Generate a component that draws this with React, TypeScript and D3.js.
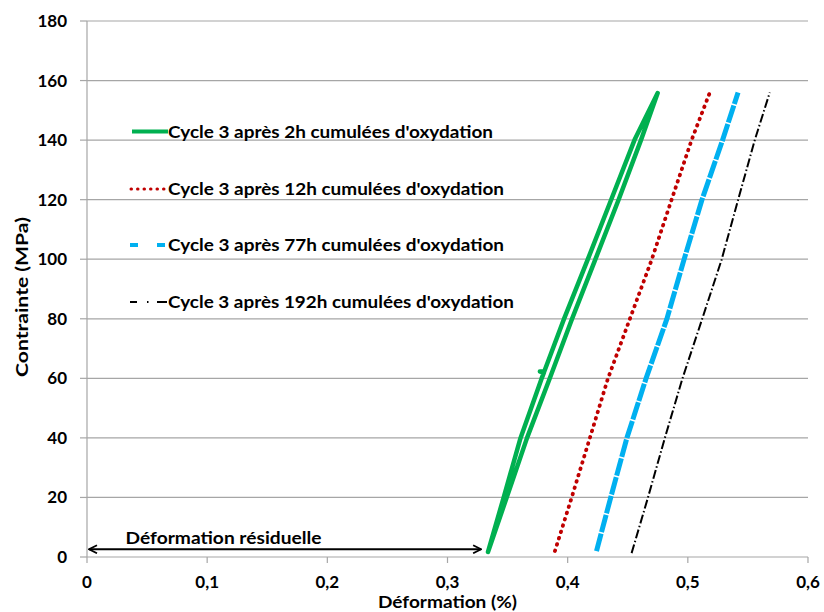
import React from "react";
import * as d3 from "d3";

// ---- Data ----
const xTicks = [0, 0.1, 0.2, 0.3, 0.4, 0.5, 0.6];
const yTicks = [0, 20, 40, 60, 80, 100, 120, 140, 160, 180];

// Cycle 3 après 2h : loading branch (right) then unloading branch (left)
const green2hX = [0.3337, 0.3491, 0.3662, 0.3849, 0.4036, 0.4228, 0.4423, 0.461, 0.4749,
  0.4556, 0.4361, 0.4165, 0.3969, 0.3806, 0.3769, 0.3803, 0.3782, 0.3608, 0.3466, 0.3337];
const green2hY = [1.7, 19.8, 40, 59.8, 79.9, 99.7, 119.9, 140, 155.8,
  140, 119.9, 99.7, 79.9, 62.4, 62.3, 62, 59.8, 40, 19.8, 1.7];

const red12hX = [0.3894, 0.4032, 0.4185, 0.4334, 0.4517, 0.4698, 0.4864, 0.5031, 0.5183];
const red12hY = [2, 19.8, 40, 59.8, 79.9, 99.7, 119.9, 140, 156];

const blue77hX = [0.424, 0.4357, 0.4493, 0.4651, 0.4825, 0.4967, 0.5117, 0.5289, 0.5418];
const blue77hY = [2, 19.8, 40, 59.8, 79.9, 99.7, 119.9, 140, 156];

const black192hX = [0.4532, 0.4667, 0.4809, 0.4954, 0.5119, 0.528, 0.5418, 0.5557, 0.5682];
const black192hY = [1.3, 19.8, 40, 59.8, 79.9, 99.7, 119.9, 140, 156];

const legendLabels = [
  "Cycle 3 après 2h cumulées d'oxydation",
  "Cycle 3 après 12h cumulées d'oxydation",
  "Cycle 3 après 77h cumulées d'oxydation",
  "Cycle 3 après 192h cumulées d'oxydation",
];

const xTitle = "Déformation (%)";
const yTitle = "Contrainte (MPa)";
const annotation = "Déformation résiduelle";
const annotationFrom = 0.0;
const annotationTo = 0.328;
const annotationY = 2.6;

const FONT = "Lato, 'Open Sans', sans-serif";

export default function App() {
  const x = d3.scaleLinear().domain([0, 0.6]).range([87, 808]);
  const y = d3.scaleLinear().domain([0, 180]).range([557, 21]);

  const line = d3
    .line<[number, number]>()
    .x((d) => x(d[0]))
    .y((d) => y(d[1]));

  const zip = (xs: number[], ys: number[]) => xs.map((v, i) => [v, ys[i]] as [number, number]);

  const series = [
    { pts: zip(green2hX, green2hY), stroke: "#00B050", width: 4.5, dash: undefined as string | undefined, cap: "round" },
    { pts: zip(red12hX, red12hY), stroke: "#C00000", width: 3.8, dash: "0.6 6", cap: "round" },
    { pts: zip(blue77hX, blue77hY), stroke: "#00B0F0", width: 5, dash: "18 1.5", cap: "butt" },
    { pts: zip(black192hX, black192hY), stroke: "#000000", width: 2, dash: "9 2.5 1.5 2.5", cap: "butt" },
  ];

  const legendY = [131.5, 189, 245, 302];
  const legendBase = [137.5, 194.5, 250.5, 307.5];
  const legendWidths = [325, 336, 336, 346];

  const gridColor = "#A6A6A6";

  return (
    <svg
      width={824}
      height={612}
      style={{ position: "absolute", left: 0, top: 0, background: "#fff" }}
      fontFamily={FONT}
    >
      <rect x={0} y={0} width={824} height={612} fill="#fff" />
      {/* gridlines */}
      {yTicks.map((t) => (
        <line key={"g" + t} x1={x(0)} x2={x(0.6)} y1={y(t)} y2={y(t)} stroke={gridColor} strokeWidth={1.2} />
      ))}
      {/* y axis */}
      <line x1={x(0)} x2={x(0)} y1={y(180)} y2={y(0)} stroke={gridColor} strokeWidth={1.2} />
      {yTicks.map((t) => (
        <g key={"yt" + t}>
          <line x1={x(0) - 7} x2={x(0)} y1={y(t)} y2={y(t)} stroke={gridColor} strokeWidth={1.2} />
          <text x={67} y={y(t) + 6} textAnchor="end" fontSize={17} fontWeight={700} fill="#000">
            {t}
          </text>
        </g>
      ))}
      {/* x axis ticks */}
      {xTicks.map((t) => (
        <g key={"xt" + t}>
          <line x1={x(t)} x2={x(t)} y1={y(0)} y2={y(0) + 6} stroke={gridColor} strokeWidth={1.2} />
          <text x={x(t)} y={588} textAnchor="middle" fontSize={17} fontWeight={700} fill="#000">
            {d3.format(".1f")(t).replace(".", ",").replace(/^0,0$/, "0")}
          </text>
        </g>
      ))}
      {/* axis titles */}
      <text x={378} y={608} fontSize={17.5} fontWeight={700} fill="#000" textLength={139} lengthAdjust="spacingAndGlyphs">
        {xTitle}
      </text>
      <text
        transform={`translate(28, 377) rotate(-90)`}
        fontSize={17.5}
        fontWeight={700}
        fill="#000"
        textLength={160}
        lengthAdjust="spacingAndGlyphs"
      >
        {yTitle}
      </text>

      {/* series */}
      {series.map((s, i) => (
        <path
          key={"s" + i}
          d={line(s.pts) || ""}
          fill="none"
          stroke={s.stroke}
          strokeWidth={s.width}
          strokeDasharray={s.dash}
          strokeLinecap={s.cap as any}
          strokeLinejoin="round"
        />
      ))}

      {/* legend */}
      <line x1={132} x2={168} y1={legendY[0]} y2={legendY[0]} stroke="#00B050" strokeWidth={4} />
      <line x1={131} x2={166} y1={legendY[1]} y2={legendY[1]} stroke="#C00000" strokeWidth={3} strokeDasharray="0.5 6" strokeLinecap="round" />
      <line x1={130} x2={167} y1={legendY[2]} y2={legendY[2]} stroke="#00B0F0" strokeWidth={4} strokeDasharray="8 19" />
      <line x1={130} x2={167} y1={legendY[3]} y2={legendY[3]} stroke="#000" strokeWidth={2} strokeDasharray="7 10 1.5 8.5 10" />
      {legendLabels.map((l, i) => (
        <text
          key={"l" + i}
          x={168}
          y={legendBase[i]}
          fontSize={17}
          fontWeight={700}
          fill="#000"
          textLength={legendWidths[i]}
          lengthAdjust="spacingAndGlyphs"
        >
          {l}
        </text>
      ))}

      {/* annotation */}
      <defs>
        <marker id="chev" viewBox="0 0 10 10" refX={9} refY={5} markerWidth={10} markerHeight={10} orient="auto-start-reverse" markerUnits="userSpaceOnUse">
          <path d="M1,1 L9,5 L1,9" fill="none" stroke="#000" strokeWidth={1.8} />
        </marker>
      </defs>
      <line
        x1={x(annotationFrom) + 2}
        x2={x(annotationTo) + 0}
        y1={y(annotationY)}
        y2={y(annotationY)}
        stroke="#000"
        strokeWidth={2}
        markerStart="url(#chev)"
        markerEnd="url(#chev)"
      />
      <text x={125.5} y={544} fontSize={17} fontWeight={700} fill="#000" textLength={196} lengthAdjust="spacingAndGlyphs">
        {annotation}
      </text>
    </svg>
  );
}
